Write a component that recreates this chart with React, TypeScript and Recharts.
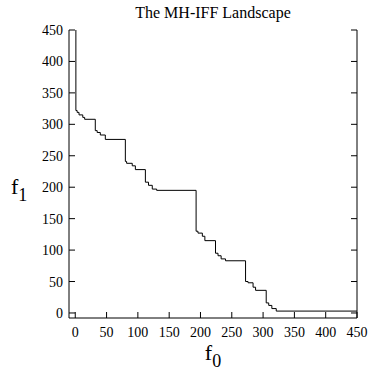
import { LineChart, Line, XAxis, YAxis } from "recharts";

// step points of the front (stepAfter)
const f0 = [1, 1, 3, 6, 12, 15, 32, 35, 40, 48, 80, 82, 91, 96, 112, 117, 123, 130, 193, 196, 203, 207, 224, 228, 233, 240, 272, 276, 284, 288, 305, 309, 314, 321, 450];
const f1 = [450, 322, 319, 315, 311, 308, 290, 287, 283, 276, 241, 238, 234, 228, 208, 203, 197, 195, 130, 127, 122, 115, 95, 91, 86, 83, 50, 48, 41, 36, 16, 12, 7, 3, 3];
const ticks = [0, 50, 100, 150, 200, 250, 300, 350, 400, 450];

const data = f0.map((x, i) => ({ f0: x, f1: f1[i] }));

const font = "Liberation Serif";
const tickLen = 6;

const BottomTick = ({ x, y, payload }: any) => (
  <g>
    <line x1={x} x2={x} y1={y} y2={y - tickLen} stroke="#000" />
    <text x={x} y={y + 19} textAnchor="middle" fontFamily={font} fontSize={14} fill="#000">
      {payload.value}
    </text>
  </g>
);

const TopTick = ({ x, y }: any) => (
  <line x1={x} x2={x} y1={y} y2={y + tickLen} stroke="#000" />
);

const LeftTick = ({ x, y, payload }: any) => (
  <g>
    <line x1={x} x2={x + tickLen} y1={y} y2={y} stroke="#000" />
    <text x={x - 6} y={y + 5} textAnchor="end" fontFamily={font} fontSize={14} fill="#000">
      {payload.value}
    </text>
  </g>
);

const RightTick = ({ x, y }: any) => (
  <line x1={x} x2={x - tickLen} y1={y} y2={y} stroke="#000" />
);

export default function App() {
  return (
    <div style={{ position: "absolute", left: 0, top: 0, width: 368, height: 371, background: "#fff", fontFamily: font }}>
      <div style={{ position: "absolute", left: 69, width: 288, top: 5, textAlign: "center", fontSize: 16, lineHeight: "16px", color: "#000" }}>
        The MH-IFF Landscape
      </div>
      <div style={{ position: "absolute", left: 69, width: 288, top: 344, textAlign: "center", fontSize: 22, lineHeight: "18px", color: "#000" }}>
        f<span style={{ fontSize: 18, position: "relative", top: 7 }}>0</span>
      </div>
      <div style={{ position: "absolute", left: 11, top: 178, fontSize: 22, lineHeight: "18px", color: "#000" }}>
        f<span style={{ fontSize: 18, position: "relative", top: 7 }}>1</span>
      </div>
      <LineChart width={368} height={371} data={data} margin={{ top: 30, right: 0, bottom: 0, left: 0 }}>
        <XAxis
          dataKey="f0"
          type="number"
          domain={[-10, 450]}
          ticks={ticks}
          interval={0}
          allowDataOverflow
          height={53}
          tickSize={0}
          tickMargin={0}
          tick={<BottomTick />}
          axisLine={{ stroke: "#000" }}
        />
        <XAxis
          xAxisId="top"
          orientation="top"
          dataKey="f0"
          type="number"
          domain={[-10, 450]}
          ticks={ticks}
          interval={0}
          allowDataOverflow
          height={0}
          tickSize={0}
          tickMargin={0}
          tick={<TopTick />}
          axisLine={{ stroke: "#000" }}
        />
        <YAxis
          type="number"
          domain={[-8, 450]}
          ticks={ticks}
          interval={0}
          allowDataOverflow
          width={69}
          tickSize={0}
          tickMargin={0}
          tick={<LeftTick />}
          axisLine={{ stroke: "#000" }}
        />
        <YAxis
          yAxisId="right"
          orientation="right"
          type="number"
          domain={[-8, 450]}
          ticks={ticks}
          interval={0}
          allowDataOverflow
          width={11}
          tickSize={0}
          tickMargin={0}
          tick={<RightTick />}
          axisLine={{ stroke: "#000" }}
        />
        <Line
          type="stepAfter"
          dataKey="f1"
          stroke="#000"
          strokeWidth={1}
          dot={false}
          activeDot={false}
          isAnimationActive={false}
        />
      </LineChart>
    </div>
  );
}
